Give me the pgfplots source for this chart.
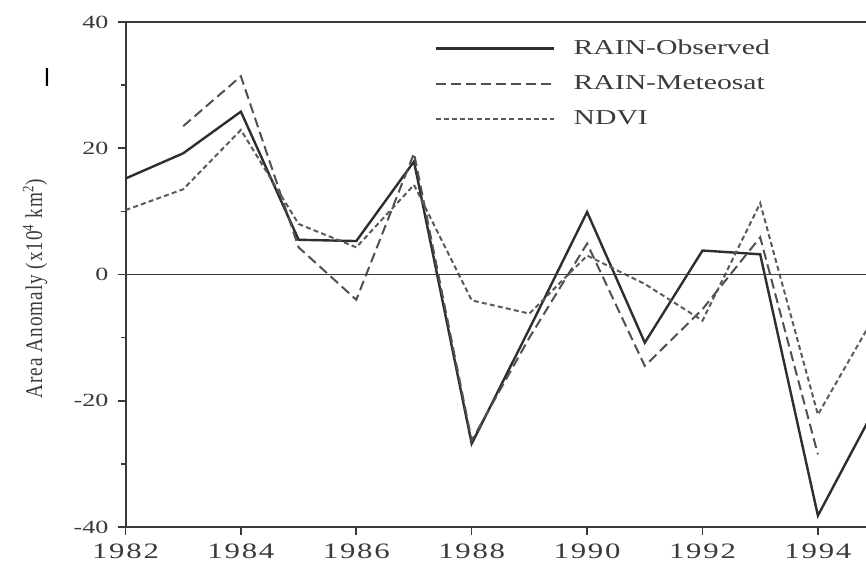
\documentclass[border=0pt]{standalone}
\usepackage{fontspec}
\setmainfont{Liberation Serif}[FakeStretch=1.4]
\newfontfamily\ylabfont{Liberation Serif}[FakeStretch=0.8,LetterSpace=4]
\newfontfamily\xtickfont{Liberation Serif}[FakeStretch=1.4,LetterSpace=8]
\usepackage{pgfplots}
\pgfplotsset{compat=1.18}
\definecolor{axgray}{HTML}{3A3A3A}
\definecolor{obs}{HTML}{2E2E2E}
\definecolor{met}{HTML}{505050}
\definecolor{ndvi}{HTML}{5A5A5A}
\begin{document}
\begin{tikzpicture}
\begin{axis}[
  name=ax,
  scale only axis,
  width=373.6pt, height=252.5pt,
  xmin=1982, xmax=1994.95,
  ymin=-40, ymax=40,
  clip=true,
  axis line style={axgray, line width=1pt},
  xtick={1982,1984,...,1994},
  xticklabels={1982,1984,1986,1988,1990,1992,1994},
  ytick={-40,-20,0,20,40},
  yticklabels={-40,-20,0,20,40},
  minor x tick num=1,
  minor y tick num=1,
  tick pos=left,
  tick align=outside,
  major tick length=4pt,
  minor tick length=2.5pt,
  tick style={axgray, line width=0.8pt},
  /pgf/number format/assume math mode=true,
  xticklabel style={font=\xtickfont\fontsize{11}{12}\selectfont, text=axgray, yshift=-1pt},
  yticklabel style={font=\fontsize{9.3}{10}\selectfont, text=axgray, xshift=-1pt},
  legend cell align=left,
  legend style={draw=none, fill=none, at={(rel axis cs:0.413,0.974)}, anchor=north west,
    font=\fontsize{10.6}{11}\selectfont, text=axgray, row sep=5pt, inner sep=0pt,
    nodes={inner sep=2pt}},
  legend image code/.code={\path[draw=none] (0pt,0pt) -- (67pt,0pt); \draw[#1] (0pt,0pt) -- (59pt,0pt);},
]
\addplot[obs, line width=1.2pt] coordinates {
 (1982,15.2) (1983,19.2) (1984,25.8) (1985,5.5) (1986,5.3) (1987,17.9)
 (1988,-26.8) (1989,-8.6) (1990,9.9) (1991,-10.8) (1992,3.8) (1993,3.2)
 (1994,-38.2) (1995,-21.0)};
\addlegendentry{RAIN-Observed}
\addplot[met, line width=1pt, dash pattern=on 5pt off 2.5pt] coordinates {
 (1983,23.5) (1984,31.4) (1985,4.3) (1986,-4.0) (1987,19.2) (1988,-26.3)
 (1989,-10.0) (1990,4.9) (1991,-14.5) (1992,-5.5) (1993,5.9) (1994,-28.5)};
\addlegendentry{RAIN-Meteosat}
\addplot[ndvi, line width=1pt, dash pattern=on 2.5pt off 1.6pt] coordinates {
 (1982,10.2) (1983,13.5) (1984,22.9) (1985,8.0) (1986,4.3) (1987,14.2)
 (1988,-4.1) (1989,-6.2) (1990,3.0) (1991,-1.5) (1992,-7.3) (1993,11.3)
 (1994,-22.2) (1995,-6.3)};
\addlegendentry{NDVI}
\draw[axgray, line width=0.8pt] (axis cs:1982,0) -- (axis cs:1994.95,0);
\end{axis}
\node[rotate=90, font=\ylabfont\fontsize{12}{13}\selectfont, text=axgray] at ([xshift=-45.25pt,yshift=-7pt]ax.west) {Area Anomaly (x10\textsuperscript{4} km\textsuperscript{2})};
\node[font=\fontsize{13}{14}\selectfont] at ([xshift=-39.25pt,yshift=-27.5pt]ax.north west) {\sffamily I};
\pgfresetboundingbox
\path ([xshift=-62.75pt,yshift=-18.5pt]ax.south west) rectangle ([xshift=370.25pt,yshift=11pt]ax.north west);
\end{tikzpicture}
\end{document}
